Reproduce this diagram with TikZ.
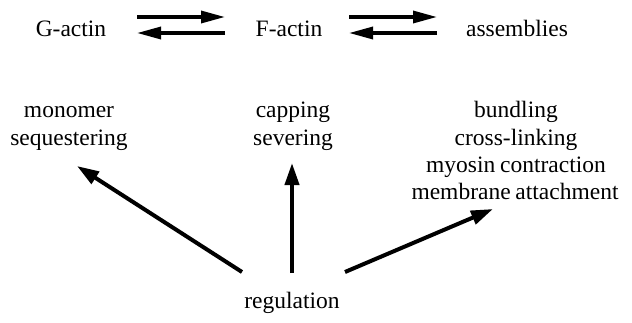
\documentclass[tikz,border=0pt]{standalone}
\usepackage{fontspec}
\setmainfont[WordSpace=0.8]{Liberation Serif}
\usetikzlibrary{arrows.meta}
\begin{document}
\begin{tikzpicture}[x=1pt,y=-1pt,
  lbl/.style={font=\fontsize{23.5}{28}\selectfont, inner sep=0pt, anchor=base},
  eqarrow/.style={line width=3.3pt, -{Triangle[length=24pt,width=12pt]}},
  regarrow/.style={line width=4pt, -{Triangle[length=22pt,width=14pt]}}]
\useasboundingbox (0,0) rectangle (632,322);
% top row
\node[lbl] (g) at (71,36) {G-actin};
\node[lbl] (f) at (289,36) {F-actin};
\node[lbl] (asm) at (517,36) {assemblies};
% middle labels
\node[lbl] (mono1) at (69,117) {monomer};
\node[lbl] (mono2) at (69,145) {sequestering};
\node[lbl] (cap1) at (293,117) {capping};
\node[lbl] (cap2) at (293,145) {severing};
\node[lbl] (b1) at (516,117) {bundling};
\node[lbl] (b2) at (516,145) {cross-linking};
\node[lbl] (b3) at (516,172) {myosin contraction};
\node[lbl] (b4) at (515,199) {membrane attachment};
\node[lbl] (reg) at (292,308) {regulation};
% equilibrium arrow end points
\coordinate (gf1a) at (137,17); \coordinate (gf1b) at (225,17);
\coordinate (gf2a) at (225,33); \coordinate (gf2b) at (137,33);
\coordinate (fa1a) at (349,17); \coordinate (fa1b) at (437,17);
\coordinate (fa2a) at (437,33); \coordinate (fa2b) at (349,33);
\draw[eqarrow] (gf1a) -- (gf1b);
\draw[eqarrow] (gf2a) -- (gf2b);
\draw[eqarrow] (fa1a) -- (fa1b);
\draw[eqarrow] (fa2a) -- (fa2b);
% regulation arrows
\coordinate (rl) at (242,272); \coordinate (tl) at (77,166);
\coordinate (rm) at (292,273); \coordinate (tm) at (292,163);
\coordinate (rr) at (345,272); \coordinate (tr) at (493,209);
\draw[regarrow] (rl) -- (tl);
\draw[regarrow] (rm) -- (tm);
\draw[regarrow] (rr) -- (tr);
\end{tikzpicture}
\end{document}
